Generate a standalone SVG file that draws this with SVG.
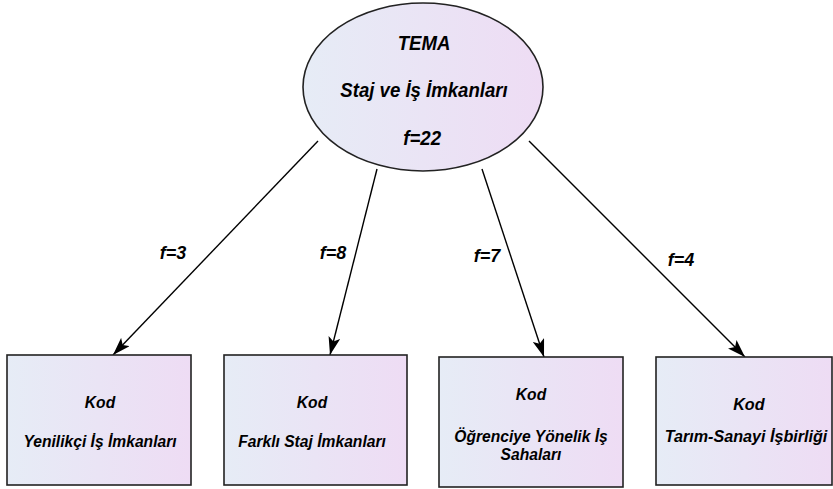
<svg xmlns="http://www.w3.org/2000/svg" width="833" height="489" viewBox="0 0 833 489">
<defs>
<linearGradient id="g" x1="0" y1="0" x2="1" y2="0">
<stop offset="0" stop-color="#e6ecf6"/>
<stop offset="1" stop-color="#eedcf4"/>
</linearGradient>
<marker id="ah2" viewBox="0 0 18 12" refX="18" refY="6" markerWidth="18" markerHeight="12" markerUnits="userSpaceOnUse" orient="auto">
<path d="M0,0 L18,6 L0,12 L4,6 Z" fill="#000"/>
</marker>
</defs>
<style>
.n{fill:url(#g);stroke:#222;stroke-width:1.6}
.t{font-family:"Liberation Sans",Arial,sans-serif;font-weight:bold;font-style:italic;fill:#000;text-anchor:middle}
.e{font-size:20px}
.b{font-size:17px}
.l{font-size:18px}
.c{stroke:#000;stroke-width:1.4;fill:none;marker-end:url(#ah2)}
</style>
<g id="connectors">
<line class="c" x1="318" y1="141" x2="113" y2="355"/>
<line class="c" x1="377" y1="169" x2="330" y2="355"/>
<line class="c" x1="482" y1="169" x2="544" y2="357"/>
<line class="c" x1="529" y1="141" x2="745" y2="357"/>
<text class="t l" x="173" y="259">f=3</text>
<text class="t l" x="333" y="259">f=8</text>
<text class="t l" x="487" y="262">f=7</text>
<text class="t l" x="681" y="266">f=4</text>
</g>
<g id="tema">
<ellipse class="n" cx="423" cy="87" rx="120" ry="84"/>
<g transform="translate(424,0) scale(0.93,1)">
<text class="t e" x="0" y="50">TEMA</text>
<text class="t e" x="0" y="97">Staj ve İş İmkanları</text>
<text class="t e" x="-2" y="145">f=22</text>
</g>
</g>
<g id="kod1">
<rect class="n" x="7" y="355" width="184" height="130"/>
<g transform="translate(100,0) scale(0.92,1)">
<text class="t b" x="0" y="408">Kod</text>
<text class="t b" x="0" y="447">Yenilikçi İş İmkanları</text>
</g>
</g>
<g id="kod2">
<rect class="n" x="224" y="355" width="183" height="130"/>
<g transform="translate(312,0) scale(0.92,1)">
<text class="t b" x="0" y="408">Kod</text>
<text class="t b" x="0" y="447">Farklı Staj İmkanları</text>
</g>
</g>
<g id="kod3">
<rect class="n" x="439" y="357" width="184" height="130"/>
<g transform="translate(531,0) scale(0.92,1)">
<text class="t b" x="0" y="400">Kod</text>
<text class="t b" x="0" y="442">Öğrenciye Yönelik İş</text>
<text class="t b" x="0" y="460">Sahaları</text>
</g>
</g>
<g id="kod4">
<rect class="n" x="656" y="357" width="176" height="128"/>
<g transform="translate(746,0) scale(0.95,1)">
<text class="t b" x="3" y="410">Kod</text>
<text class="t b" x="0" y="442">Tarım-Sanayi İşbirliği</text>
</g>
</g>
</svg>
